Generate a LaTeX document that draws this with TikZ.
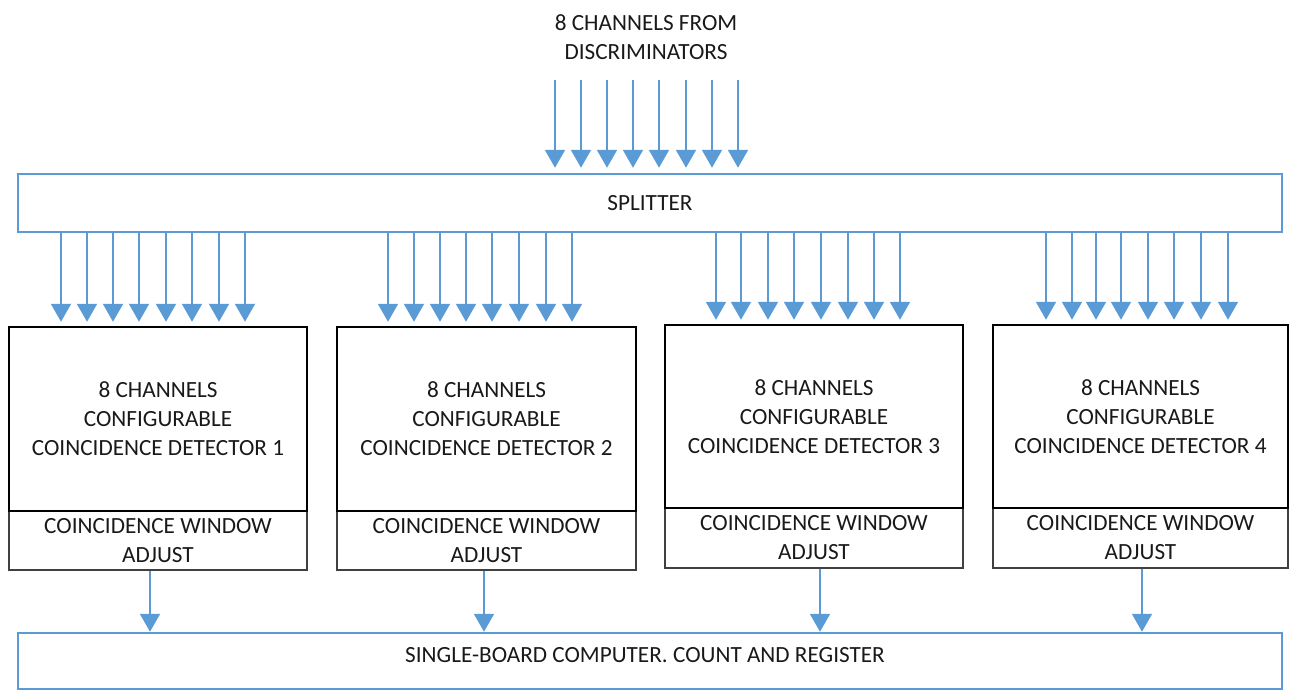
\documentclass[tikz,border=0pt]{standalone}
\usepackage{fontspec}
\setmainfont{Carlito}
\usetikzlibrary{arrows.meta}
\definecolor{flow}{RGB}{91,155,213}
\definecolor{ink}{RGB}{25,25,25}
\begin{document}
\begin{tikzpicture}[x=1pt,y=-1pt,
  lbl/.style={font=\fontsize{23.2}{29}\selectfont, text=ink, align=center},
  arr/.style={draw=flow, line width=2pt, -{Triangle[width=20pt,length=18pt]}},
  bluebox/.style={draw=flow, line width=2.5pt, fill=white, inner sep=0pt},
  detbox/.style={draw=black, line width=2.5pt, lbl, inner sep=0pt},
  winbox/.style={draw=black!75, line width=1.3pt, lbl, inner sep=0pt}]
\useasboundingbox (0,0) rectangle (1290,691);

% input label and splitter
\node[lbl] (src) at (646,37) {8 CHANNELS FROM\\DISCRIMINATORS};
\node[bluebox, lbl, minimum width=1264pt, minimum height=58pt] (split) at (650,203) {SPLITTER};

% coincidence detectors with their window-adjust panels
\node[winbox, minimum width=298pt, minimum height=59pt] (win1) at (158,540.5) {COINCIDENCE WINDOW\\ADJUST};
\node[detbox, minimum width=298pt, minimum height=184pt] (det1) at (158,419) {8 CHANNELS\\CONFIGURABLE\\COINCIDENCE DETECTOR 1};

\node[winbox, minimum width=299pt, minimum height=59pt] (win2) at (486.5,540.5) {COINCIDENCE WINDOW\\ADJUST};
\node[detbox, minimum width=299pt, minimum height=184pt] (det2) at (486.5,419) {8 CHANNELS\\CONFIGURABLE\\COINCIDENCE DETECTOR 2};

\node[winbox, minimum width=298pt, minimum height=60pt] (win3) at (814,538) {COINCIDENCE WINDOW\\ADJUST};
\node[detbox, minimum width=298pt, minimum height=183pt] (det3) at (814,416.5) {8 CHANNELS\\CONFIGURABLE\\COINCIDENCE DETECTOR 3};

\node[winbox, minimum width=295pt, minimum height=60pt] (win4) at (1140.5,538) {COINCIDENCE WINDOW\\ADJUST};
\node[detbox, minimum width=295pt, minimum height=183pt] (det4) at (1140.5,416.5) {8 CHANNELS\\CONFIGURABLE\\COINCIDENCE DETECTOR 4};

% single-board computer
\node[bluebox, minimum width=1264pt, minimum height=56pt] (sbc) at (650,661) {};
\node[lbl] (sbctext) at (645,655) {SINGLE-BOARD COMPUTER. COUNT AND REGISTER};

% discriminator channels into the splitter
\foreach \x [count=\i] in {555,581,607,633,659,686,712,738}{
  \coordinate (in\i) at (\x,80);
  \draw[arr, shorten >=5pt] (in\i) -- (in\i |- split.north);
}

% splitter outputs to each detector
\foreach \x in {61,87,113,139,166,192,219,245}
  \draw[arr, shorten >=4pt] (\x,0 |- split.south) -- (\x,0 |- det1.north);
\foreach \x in {388,414,440,466,492,519,546,572}
  \draw[arr, shorten >=4pt] (\x,0 |- split.south) -- (\x,0 |- det2.north);
\foreach \x in {716,741,768,794,821,848,874,900}
  \draw[arr, shorten >=4pt] (\x,0 |- split.south) -- (\x,0 |- det3.north);
\foreach \x in {1046,1072,1096,1121,1148,1174,1201,1228}
  \draw[arr, shorten >=4pt] (\x,0 |- split.south) -- (\x,0 |- det4.north);

% detector results to the computer
\draw[arr] ([xshift=-8pt]win1.south) -- ([xshift=-8pt]win1.south |- sbc.north);
\draw[arr] ([xshift=-2.5pt]win2.south) -- ([xshift=-2.5pt]win2.south |- sbc.north);
\draw[arr] ([xshift=6pt]win3.south) -- ([xshift=6pt]win3.south |- sbc.north);
\draw[arr] ([xshift=1.5pt]win4.south) -- ([xshift=1.5pt]win4.south |- sbc.north);
\end{tikzpicture}
\end{document}
